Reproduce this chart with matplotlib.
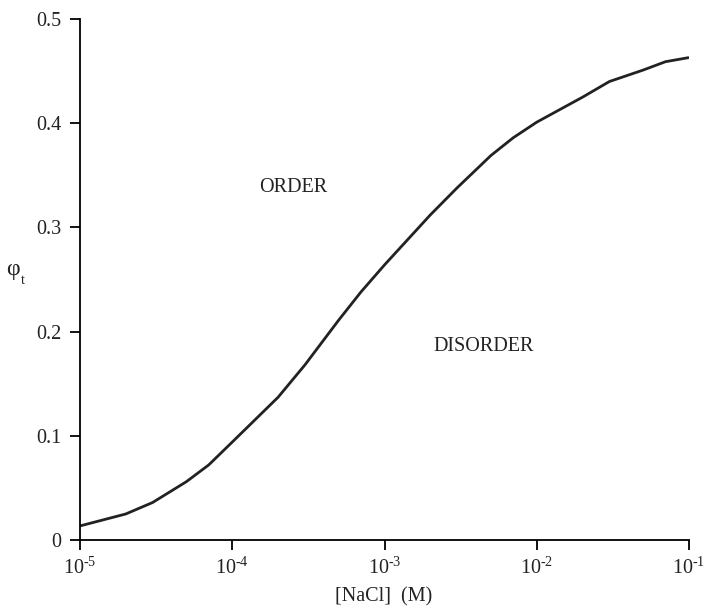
import numpy as np
import matplotlib
matplotlib.use('Agg')
import matplotlib.pyplot as plt

plt.rcParams['font.family'] = ['Liberation Serif', 'DejaVu Serif']
plt.rcParams['mathtext.fontset'] = 'custom'
plt.rcParams['mathtext.rm'] = 'Liberation Serif'
plt.rcParams['mathtext.it'] = 'Liberation Serif:italic'

# salt concentration (M) and order-disorder boundary
nacl = [1e-5, 2e-5, 3e-5, 5e-5, 7e-5, 1e-4, 2e-4, 3e-4, 5e-4, 7e-4,
        1e-3, 2e-3, 3e-3, 5e-3, 7e-3, 1e-2, 2e-2, 3e-2, 5e-2, 7e-2, 1e-1]
phi_t = [0.0135, 0.025, 0.036, 0.056, 0.072, 0.094, 0.137, 0.168, 0.211, 0.238,
         0.264, 0.312, 0.338, 0.369, 0.386, 0.401, 0.425, 0.440, 0.451, 0.459, 0.463]

xticks = [1e-5, 1e-4, 1e-3, 1e-2, 1e-1]
xticklabels = [r'$10^{\text{-5}}$', r'$10^{\text{-4}}$', r'$10^{\text{-3}}$',
               r'$10^{\text{-2}}$', r'$10^{\text{-1}}$']
yticks = [0, 0.1, 0.2, 0.3, 0.4, 0.5]
yticklabels = ['0', '0.1', '0.2', '0.3', '0.4', '0.5']

fig = plt.figure(figsize=(7.05, 6.09), dpi=100)
ax = fig.add_axes([80 / 705, 1 - 540 / 609, 609 / 705, 521 / 609])

ax.plot(nacl, phi_t, color='#222222', linewidth=2.0, solid_capstyle='butt')

ax.set_xscale('log')
ax.set_xlim(1e-5, 1e-1)
ax.set_ylim(0, 0.5)
ax.set_xticks(xticks)
ax.set_xticklabels(xticklabels)
ax.minorticks_off()
ax.set_yticks(yticks)
ax.set_yticklabels(yticklabels)

for side in ['top', 'right']:
    ax.spines[side].set_visible(False)
for side in ['left', 'bottom']:
    ax.spines[side].set_linewidth(1.3)
ax.tick_params(direction='out', length=7.5, width=1.3, labelsize=14.5,
               colors='black', labelcolor='#222222')
ax.tick_params(axis='y', pad=6)
ax.tick_params(axis='x', pad=5)

ax.text(2.52e-4, 0.338, 'ORDER', fontsize=14.5, ha='center', va='center', color='#222222')
ax.text(4.5e-3, 0.186, 'DISORDER', fontsize=14.5, ha='center', va='center', color='#222222')

fig.text(384 / 705, 1 - 597 / 609, '[NaCl]  (M)', fontsize=14.5, ha='center', va='center',
         color='#222222')
fig.text(6 / 705, 1 - 270 / 609, 'φ', fontsize=17, ha='left', va='center', color='#222222')
fig.text(21 / 705, 1 - 281 / 609, 't', fontsize=10, ha='left', va='center', color='#222222')

fig.savefig('out.png', dpi=100)
